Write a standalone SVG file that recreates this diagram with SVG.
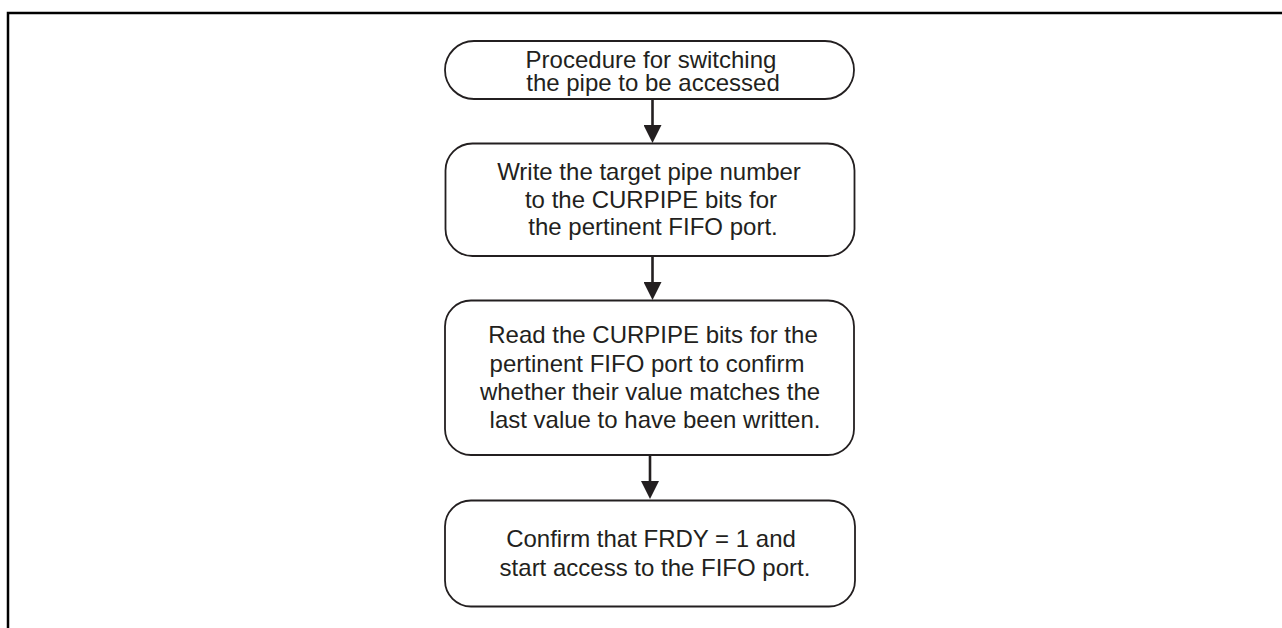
<svg xmlns="http://www.w3.org/2000/svg" width="1282" height="628" viewBox="0 0 1282 628">
  <style>
    .box { fill: #ffffff; stroke: #231f20; stroke-width: 1.8; }
    .txt { font-family: "Liberation Sans", Arial, sans-serif; font-size: 24px; fill: #231f20; text-anchor: middle; }
    .conn { stroke: #231f20; stroke-width: 2.6; fill: none; }
    .frame { stroke: #000000; stroke-width: 2.5; fill: none; }
  </style>
  <defs>
    <marker id="arrow" viewBox="0 0 18 18" refX="8" refY="9" markerWidth="18" markerHeight="18" markerUnits="userSpaceOnUse" orient="auto">
      <path d="M0,0 L18,9 L0,18 Z" fill="#231f20"/>
    </marker>
  </defs>
  <rect width="1282" height="628" fill="#ffffff"/>
  <path class="frame" d="M8,628 V13 H1282"/>

  <g id="connectors">
    <line class="conn" x1="652.5" y1="99" x2="652.5" y2="133" marker-end="url(#arrow)"/>
    <line class="conn" x1="652.5" y1="256" x2="652.5" y2="290" marker-end="url(#arrow)"/>
    <line class="conn" x1="650" y1="455" x2="650" y2="489" marker-end="url(#arrow)"/>
  </g>

  <g id="node-start">
    <rect class="box" x="445" y="41" width="409" height="58" rx="29" ry="29"/>
    <text class="txt" x="651" y="67.5">Procedure for switching</text>
    <text class="txt" x="653" y="91">the pipe to be accessed</text>
  </g>

  <g id="node-write">
    <rect class="box" x="445.5" y="143.5" width="409" height="112.5" rx="27" ry="27"/>
    <text class="txt" x="649" y="180">Write the target pipe number</text>
    <text class="txt" x="651" y="207.5">to the CURPIPE bits for</text>
    <text class="txt" x="653" y="235">the pertinent FIFO port.</text>
  </g>

  <g id="node-read">
    <rect class="box" x="445" y="300.5" width="409" height="154.5" rx="26" ry="26"/>
    <text class="txt" x="653" y="343.3">Read the CURPIPE bits for the</text>
    <text class="txt" x="647" y="371.7">pertinent FIFO port to confirm</text>
    <text class="txt" x="650" y="400">whether their value matches the</text>
    <text class="txt" x="655" y="428.3">last value to have been written.</text>
  </g>

  <g id="node-confirm">
    <rect class="box" x="445" y="500.5" width="410" height="106" rx="26" ry="26"/>
    <text class="txt" x="651" y="547.3">Confirm that FRDY = 1 and</text>
    <text class="txt" x="655" y="576">start access to the FIFO port.</text>
  </g>
</svg>
